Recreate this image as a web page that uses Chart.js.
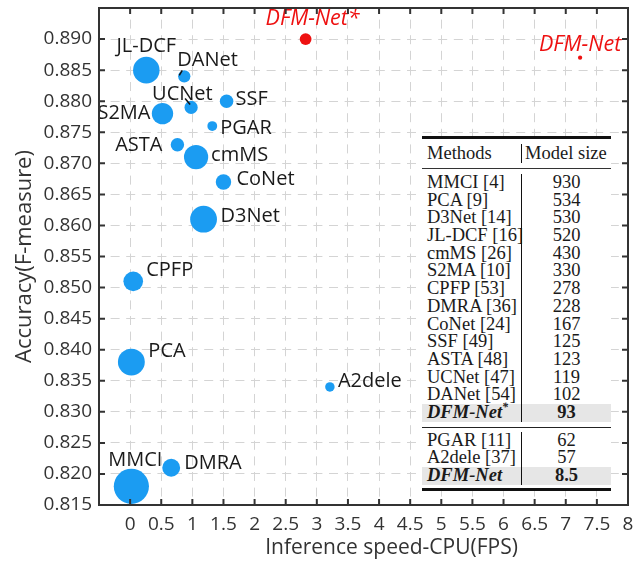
<!DOCTYPE html>
<html>
<head>
<meta charset="utf-8">
<script src="https://cdn.jsdelivr.net/npm/chart.js@4.4.0/dist/chart.umd.min.js"></script>
<style>
  html, body { margin: 0; padding: 0; background: #fff; }
  #wrap { position: relative; width: 634px; height: 566px; }
  #sizeTable {
    position: absolute; left: 422px; top: 136px; width: 189px;
    background: #fff; color: #1a1a1a;
    font-family: 'Liberation Serif', 'DejaVu Serif', serif; font-size: 18.5px;
    border-top: 3px solid #111; border-bottom: 3px solid #111;
  }
  .hdr { height: 29px; display: flex; align-items: center; border-bottom: 1.5px solid #333; }
  .c1 { width: 99px; padding-left: 5px; box-sizing: border-box; white-space: nowrap; }
  .hdr .c2 { border-left: 1px solid #111; padding-left: 3px; line-height: 19px; white-space: nowrap; }
  .grp { padding: 5px 0 5px; }
  #g1 { border-bottom: 1.5px solid #222; }
  #g2 { padding: 4px 0 3px; }
  .row { display: flex; height: 17.7px; line-height: 17.7px; }
  .row .c2 { flex: 1; text-align: center; border-left: 1px solid #111; }
  .row.ours { background: #e6e6e6; font-weight: bold; }
  .row.ours .c1 { font-style: italic; }
  sup { font-size: 12px; line-height: 0; }
</style>
</head>
<body>
<div id="wrap">
  <canvas id="chart" width="634" height="566"></canvas>
  <div id="sizeTable">
    <div class="hdr"><span class="c1">Methods</span><span class="c2">Model size</span></div>
    <div class="grp" id="g1"></div>
    <div class="grp" id="g2"></div>
  </div>
</div>
<script>
// methods, in the order of the table
const methods   = ['MMCI', 'PCA', 'D3Net', 'JL-DCF', 'cmMS', 'S2MA', 'CPFP', 'DMRA', 'CoNet', 'SSF', 'ASTA', 'UCNet', 'DANet', 'DFM-Net*', 'PGAR', 'A2dele', 'DFM-Net'];
const refs      = [4, 9, 14, 16, 26, 10, 53, 36, 24, 49, 48, 47, 54, null, 11, 37, null];
const modelSize = [930, 534, 530, 520, 430, 330, 278, 228, 167, 125, 123, 119, 102, 93, 62, 57, 8.5];
const fps       = [0.02, 0.02, 1.18, 0.26, 1.06, 0.52, 0.05, 0.66, 1.50, 1.55, 0.76, 0.98, 0.87, 2.82, 1.32, 3.21, 7.23];
const fMeasure  = [0.818, 0.838, 0.861, 0.885, 0.871, 0.878, 0.851, 0.821, 0.867, 0.880, 0.873, 0.879, 0.884, 0.890, 0.876, 0.834, 0.887];
const firstGroupSize = 14;

const xRange = [-0.5, 8];
const yRange = [0.815, 0.895];
const xTitle = 'Inference speed-CPU(FPS)';
const yTitle = 'Accuracy(F-measure)';

const BLUE = '#1b9cf2';
const RED = '#ee1111';
const isOurs = name => name.startsWith('DFM-Net');

// table
function rowHtml(i) {
  const name = methods[i];
  let label = refs[i] != null ? `${name} [${refs[i]}]` : name;
  if (label.endsWith('*')) label = label.slice(0, -1) + '<sup>*</sup>';
  return `<div class="row${isOurs(name) ? ' ours' : ''}"><span class="c1">${label}</span><span class="c2">${modelSize[i]}</span></div>`;
}
document.getElementById('g1').innerHTML = methods.slice(0, firstGroupSize).map((m, i) => rowHtml(i)).join('');
document.getElementById('g2').innerHTML = methods.slice(firstGroupSize).map((m, i) => rowHtml(i + firstGroupSize)).join('');

// where each name sits relative to its bubble (px)
const labelPlace = {
  'MMCI':     { dx: 4,   dy: -26, align: 'center' },
  'PCA':      { dx: 17,  dy: -11, align: 'left' },
  'D3Net':    { dx: 17,  dy: -3,  align: 'left' },
  'JL-DCF':   { dx: 0,   dy: -24, align: 'center' },
  'cmMS':     { dx: 15,  dy: -2,  align: 'left' },
  'S2MA':     { dx: -12, dy: 0,   align: 'right' },
  'CPFP':     { dx: 13,  dy: -11, align: 'left' },
  'DMRA':     { dx: 13,  dy: -4,  align: 'left' },
  'CoNet':    { dx: 13,  dy: -3,  align: 'left' },
  'SSF':      { dx: 9,   dy: -2,  align: 'left' },
  'ASTA':     { dx: -15, dy: 1,   align: 'right' },
  'UCNet':    { dx: -39, dy: -13, align: 'left', lead: [-6, -9, -1, -3] },
  'DANet':    { dx: -7,  dy: -16, align: 'left', lead: [-5, -1, -2, -6] },
  'DFM-Net*': { dx: 7,   dy: -20, align: 'center' },
  'PGAR':     { dx: 8,   dy: 2,   align: 'left' },
  'A2dele':   { dx: 8,   dy: -6,  align: 'left' },
  'DFM-Net':  { dx: 0,   dy: -13, align: 'center' }
};

const pointLabels = {
  id: 'pointLabels',
  afterDatasetsDraw(chart) {
    const ctx = chart.ctx;
    const pts = chart.getDatasetMeta(0).data;
    ctx.save();
    ctx.textBaseline = 'middle';
    pts.forEach((p, i) => {
      const name = methods[i];
      const pl = labelPlace[name];
      if (!pl) return;
      const ours = isOurs(name);
      ctx.fillStyle = ours ? RED : '#1a1a1a';
      ctx.font = ours ? 'italic 21.5px "Open Sans"' : '20px "Open Sans"';
      ctx.textAlign = pl.align;
      ctx.fillText(name, p.x + pl.dx, p.y + pl.dy);
      if (pl.lead) {
        ctx.strokeStyle = '#111';
        ctx.lineWidth = 1.5;
        ctx.beginPath();
        ctx.moveTo(p.x + pl.lead[0], p.y + pl.lead[1]);
        ctx.lineTo(p.x + pl.lead[2], p.y + pl.lead[3]);
        ctx.stroke();
      }
    });
    ctx.restore();
  }
};

// box round the plot with inward ticks on all four sides, plus the x title
// (which sits right of the plot's centre in the original)
const frame = {
  id: 'frame',
  afterDraw(chart) {
    const { ctx, chartArea: a, scales: { x, y } } = chart;
    ctx.save();
    ctx.strokeStyle = '#333';
    ctx.lineWidth = 2;
    ctx.beginPath();
    x.ticks.forEach(t => {
      const px = x.getPixelForValue(t.value);
      ctx.moveTo(px, a.bottom); ctx.lineTo(px, a.bottom - 6);
      ctx.moveTo(px, a.top); ctx.lineTo(px, a.top + 6);
    });
    y.ticks.forEach(t => {
      const py = y.getPixelForValue(t.value);
      ctx.moveTo(a.left, py); ctx.lineTo(a.left + 6, py);
      ctx.moveTo(a.right, py); ctx.lineTo(a.right - 6, py);
    });
    ctx.stroke();
    ctx.strokeRect(a.left, a.top, a.right - a.left, a.bottom - a.top);

    ctx.fillStyle = '#333';
    ctx.font = '21px "Open Sans"';
    ctx.textAlign = 'center';
    ctx.textBaseline = 'middle';
    ctx.fillText(xTitle, x.getPixelForValue(4.2), x.bottom - 18);
    ctx.restore();
  }
};

new Chart(document.getElementById('chart'), {
  type: 'bubble',
  data: {
    datasets: [{
      data: methods.map((m, i) => ({ x: fps[i], y: fMeasure[i], r: 0.56 * Math.sqrt(modelSize[i]) + 0.5 })),
      backgroundColor: methods.map(m => isOurs(m) ? RED : BLUE),
      borderWidth: 0,
      clip: false
    }]
  },
  options: {
    responsive: false,
    animation: false,
    layout: { autoPadding: false, padding: { top: 8, right: 6, bottom: 0, left: 0 } },
    plugins: { legend: { display: false }, tooltip: { enabled: false } },
    scales: {
      x: {
        type: 'linear',
        min: xRange[0],
        max: xRange[1],
        afterFit: s => { s.height = 61; s.paddingLeft = 0; s.paddingRight = 0; },
        grid: { color: '#d4d4d4', lineWidth: 1, drawTicks: false },
        border: { display: false, dash: [9, 6.6], dashOffset: 4 },
        ticks: {
          stepSize: 0.5,
          autoSkip: false,
          maxRotation: 0,
          padding: 8,
          color: '#333',
          font: { family: 'Open Sans', size: 19 },
          callback: v => v < 0 ? '' : String(+v.toFixed(1))
        }
      },
      y: {
        type: 'linear',
        min: yRange[0],
        max: yRange[1],
        afterFit: s => { s.width = 99; s.paddingTop = 0; s.paddingBottom = 0; },
        grid: { color: '#d4d4d4', lineWidth: 1, drawTicks: false },
        border: { display: false, dash: [9, 6.6], dashOffset: 4 },
        ticks: {
          stepSize: 0.005,
          autoSkip: false,
          padding: 7,
          color: '#333',
          font: { family: 'Open Sans', size: 19 },
          callback: v => v > 0.8925 ? '' : v.toFixed(3)
        },
        title: {
          display: true,
          text: yTitle,
          color: '#333',
          font: { family: 'Open Sans', size: 22 },
          padding: { top: 12, bottom: 0 }
        }
      }
    }
  },
  plugins: [pointLabels, frame]
});
</script>
</body>
</html>
